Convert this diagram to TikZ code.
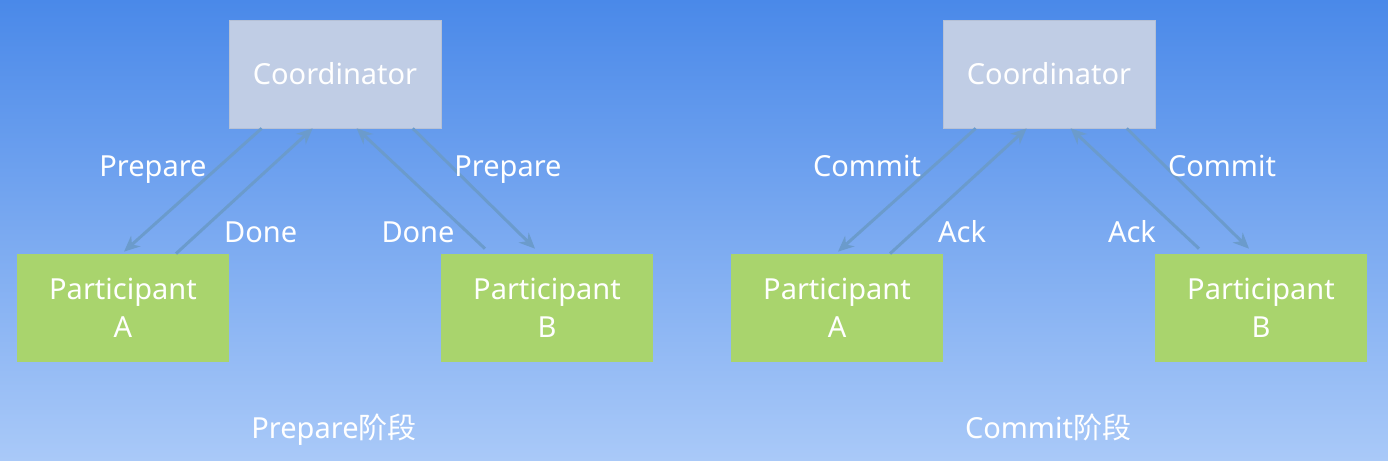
\documentclass[tikz,border=0pt]{standalone}
\usepackage{fontspec}
\setmainfont{Noto Sans}
\newfontfamily\cjk{Noto Sans CJK SC}
\usetikzlibrary{arrows.meta}

\definecolor{bgtop}{HTML}{4A89E9}
\definecolor{bgbot}{HTML}{A9C9F8}
\definecolor{coordfill}{HTML}{C0CDE5}
\definecolor{partfill}{HTML}{A9D46D}
\definecolor{msgcol}{HTML}{6B9BCC}

\tikzset{
  box/.style={minimum width=4.24cm, minimum height=2.16cm, align=center,
    text=white, inner sep=0pt},
  coordbox/.style={box, fill=coordfill, draw=coordfill!85!gray},
  partbox/.style={box, fill=partfill},
  msg/.style={draw=msgcol, line width=1.7pt, -{Stealth[length=9pt,width=8pt]}},
  lbl/.style={text=white, anchor=base},
}

\begin{document}
\begin{tikzpicture}[x=0.02cm, y=-0.02cm, font=\fontsize{16.5}{21.6}\selectfont]
  \shade[top color=bgtop, bottom color=bgbot] (0,0) rectangle (1388,460);
  \useasboundingbox (0,0) rectangle (1388,460);

  \foreach \i/\ox/\req/\rep in {1/0/Prepare/Done, 2/714/Commit/Ack} {
    \begin{scope}[shift={(\ox,0)}]
      \node[coordbox] (C\i) at (335,74)  {Coordinator};
      \node[partbox]  (A\i) at (123,308) {Participant\\A};
      \node[partbox]  (B\i) at (547,308) {Participant\\B};

      \draw[msg] ([shift={(33,0)}]C\i.south west) -- ([shift={(1,-2)}]A\i.north);
      \draw[msg] ([shift={(53,0)}]A\i.north) -- ([shift={(84,0)}]C\i.south west);
      \draw[msg] ([shift={(-62,-5)}]B\i.north) -- ([shift={(128,0)}]C\i.south west);
      \draw[msg] ([shift={(184,0)}]C\i.south west) -- ([shift={(-12,-5)}]B\i.north);

      \node[lbl] (LA\i) at (153,176) {\req};
      \node[lbl, anchor=base west] (RA\i) at (218,242) {\rep};
      \node[lbl] (RB\i) at (418,242) {\rep};
      \node[lbl] (LB\i) at (508,176) {\req};

      \node[lbl] (T\i) at (334,438) {\req{\cjk 阶段}};
    \end{scope}
  }
\end{tikzpicture}
\end{document}
